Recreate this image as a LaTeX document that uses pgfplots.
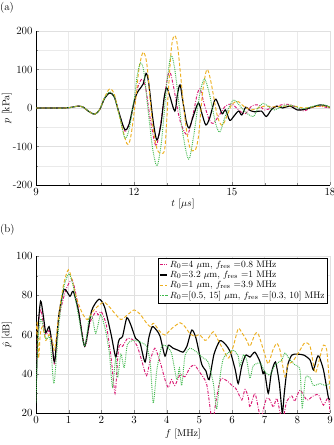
\documentclass[border=0pt]{standalone}
\usepackage{pgfplots}
\pgfplotsset{compat=1.18}
\definecolor{cMag}{rgb}{0.85,0.10,0.45}
\definecolor{cOra}{rgb}{0.93,0.69,0.13}
\definecolor{cGre}{rgb}{0.25,0.72,0.30}
\definecolor{cGrid}{gray}{0.88}
\newcommand{\tfont}{\fontsize{11}{13}\selectfont}
\pgfplotsset{
  myaxis/.style={
    scale only axis, width=294bp,
    axis x line*=bottom, axis y line*=left, axis line style={-},
    tick align=inside, major tick length=3bp, minor tick length=2bp,
    grid=both, major grid style={cGrid, line width=0.5pt}, minor grid style={cGrid!70, line width=0.4pt},
    tick label style={font=\tfont},
    label style={font=\tfont},
    every axis y label/.style={at={(axis description cs:-0.099,0.5)}, anchor=center, rotate=90},
  },
  sMag/.style={cMag, line width=0.95pt, dash pattern=on 3pt off 1.5pt on 0.8pt off 1.5pt},
  sBla/.style={black, line width=1.15pt},
  sOra/.style={cOra, line width=0.95pt, dash pattern=on 3.5pt off 2pt},
  sGre/.style={cGre, line width=0.95pt, dash pattern=on 0.9pt off 1pt},
}
\begin{document}
\begin{tikzpicture}
% ---------------- (a) ----------------
\begin{axis}[myaxis, at={(0bp,228bp)}, anchor=south west, height=154bp,
  xmin=9, xmax=18, ymin=-200, ymax=200,
  xtick={9,12,15,18}, minor x tick num=2,
  ytick={-200,-100,0,100,200}, yticklabels={{-200},{-100},0,100,200}, minor y tick num=1,
  xlabel={$t$ [$\mu s$]}, ylabel={$p$ [kPa]},
  every axis x label/.style={at={(axis description cs:0.5,-0.123)}, anchor=center}]
\addplot[sMag, smooth, tension=0.5] coordinates {
(9,0)(9.5,0)(9.9,0)(10.1,2)(10.3,5)(10.45,2)(10.6,-8)(10.8,-16)(10.95,-4)(11.1,25)(11.26,40)(11.4,28)(11.55,-15)(11.72,-60)(11.85,-40)(12.0,10)(12.1,50)(12.23,74)(12.35,55)(12.5,-30)(12.67,-98)(12.8,-50)(12.95,40)(13.08,95)(13.2,60)(13.4,-30)(13.63,-70)(13.8,-20)(13.92,30)(14.02,50)(14.15,10)(14.3,-30)(14.42,-40)(14.6,-20)(14.8,5)(15.0,10)(15.2,-5)(15.4,-15)(15.6,5)(15.8,8)(16.0,-5)(16.2,0)(16.4,5)(16.6,10)(16.8,8)(17.0,0)(17.2,-8)(17.4,0)(17.6,5)(17.8,3)(18,0)};
\addplot[sBla, smooth, tension=0.5] coordinates {
(9,0)(9.5,0)(9.9,0)(10.1,2)(10.3,5)(10.45,2)(10.6,-8)(10.8,-16)(10.95,-4)(11.1,25)(11.26,39)(11.4,28)(11.55,-15)(11.72,-56)(11.85,-42)(12.0,15)(12.1,40)(12.2,52)(12.28,62)(12.37,90)(12.45,65)(12.58,-30)(12.7,-83)(12.82,-45)(12.92,25)(13.0,52)(13.1,30)(13.25,-8)(13.33,35)(13.41,60)(13.5,15)(13.6,-35)(13.69,-52)(13.8,-25)(13.97,13)(14.08,-15)(14.2,-44)(14.32,-25)(14.48,22)(14.58,10)(14.7,-15)(14.8,-5)(14.93,-32)(15.05,-22)(15.2,-8)(15.3,-18)(15.42,2)(15.55,-6)(15.7,-10)(15.9,-8)(16.05,-22)(16.2,-5)(16.36,5)(16.55,0)(16.77,5)(17.0,-5)(17.2,-4)(17.45,2)(17.7,8)(17.9,5)(18,1)};
\addplot[sOra, smooth, tension=0.5] coordinates {
(9,0)(9.5,0)(9.9,0)(10.1,2)(10.3,5)(10.45,2)(10.6,-8)(10.8,-16)(10.95,-4)(11.1,28)(11.26,50)(11.4,35)(11.55,-20)(11.78,-92)(11.9,-75)(12.05,20)(12.15,100)(12.28,145)(12.4,110)(12.55,-30)(12.7,-105)(12.85,-118)(12.95,-100)(13.05,40)(13.15,160)(13.25,188)(13.35,150)(13.55,-20)(13.7,-100)(13.87,-110)(13.98,-70)(14.1,40)(14.23,100)(14.35,70)(14.55,-20)(14.7,-45)(14.85,-20)(15.0,10)(15.19,17)(15.35,5)(15.6,-5)(15.8,0)(16.0,5)(16.3,3)(16.6,5)(16.9,5)(17.2,0)(17.5,3)(17.8,5)(18,2)};
\addplot[sGre, smooth, tension=0.5] coordinates {
(9,0)(9.5,0)(9.9,0)(10.1,2)(10.3,5)(10.45,2)(10.6,-8)(10.8,-16)(10.95,-4)(11.1,26)(11.26,42)(11.4,28)(11.55,-18)(11.72,-78)(11.85,-55)(12.0,20)(12.1,85)(12.2,117)(12.3,95)(12.45,-20)(12.58,-110)(12.71,-150)(12.85,-80)(13.0,60)(13.13,135)(13.25,100)(13.45,-40)(13.6,-115)(13.7,-130)(13.85,-60)(14.0,30)(14.15,75)(14.3,40)(14.5,-40)(14.63,-62)(14.8,-20)(15.03,20)(15.2,10)(15.4,-10)(15.65,-22)(15.8,0)(15.95,12)(16.1,5)(16.3,-5)(16.5,3)(16.7,8)(16.9,5)(17.1,-2)(17.3,0)(17.5,5)(17.8,8)(18,3)};
\end{axis}
% ---------------- (b) ----------------
\begin{axis}[myaxis, at={(0bp,0bp)}, anchor=south west, height=157bp,
  xmin=0, xmax=9, ymin=20, ymax=100,
  xtick={0,1,...,9}, ytick={20,40,...,100}, minor y tick num=1,
  xlabel={$f$ [MHz]}, ylabel={$\hat{p}$ [dB]},
  every axis x label/.style={at={(axis description cs:0.5,-0.134)}, anchor=center},
  legend cell align=left,
  legend style={at={(rel axis cs:0.993,0.99)}, anchor=north east, font=\fontsize{9.5}{11}\selectfont,
    draw=black, line width=0.5pt, inner sep=1pt, row sep=-1.8pt, fill=white},
  legend image post style={xscale=0.45}]
\addplot[sMag, smooth, tension=0.4] coordinates {
(0,40)(0.05,62)(0.14,73)(0.22,66)(0.3,60)(0.4,62)(0.48,56)(0.57,45)(0.7,68)(0.9,82)(1.1,88)(1.25,78)(1.49,54)(1.65,66)(1.83,71.6)(1.9,70)(2.0,71.6)(2.15,65)(2.3,48)(2.42,30)(2.5,48)(2.56,55)(2.65,54)(2.8,58)(2.95,57.5)(3.1,54)(3.25,46)(3.38,39)(3.5,47)(3.64,53)(3.8,46)(3.95,37)(4.05,33)(4.15,37)(4.25,34)(4.41,39.5)(4.56,38.5)(4.71,43)(4.85,44.5)(5.0,41)(5.22,35)(5.35,20)(5.41,15)(5.5,25)(5.6,34)(5.68,37.7)(5.88,36)(6.0,34)(6.09,33)(6.17,31)(6.3,26.6)(6.4,32)(6.5,28)(6.55,23)(6.7,30)(6.8,23)(6.88,17)(6.96,22)(7.06,27.5)(7.15,27)(7.27,23)(7.37,27.5)(7.5,18)(7.55,15)(7.67,25.8)(7.83,28.7)(7.92,26)(8.08,31.7)(8.29,26.6)(8.45,28.3)(8.6,29.5)(8.66,29)(8.8,24)(8.95,28)(9,20)};
\addlegendentry{$R_0$=4 $\mu$m, $f_{\mathrm{res}}$ =0.8 MHz}
\addplot[sBla, smooth, tension=0.4] coordinates {
(0,28)(0.05,60)(0.14,77)(0.22,70)(0.3,61)(0.4,64)(0.48,57)(0.57,46)(0.7,70)(0.86,83)(1.04,79.5)(1.14,82)(1.3,72)(1.49,54)(1.7,72)(1.93,78)(2.1,74)(2.3,60)(2.44,48.5)(2.52,56)(2.57,58)(2.65,59)(2.78,68.5)(2.9,65)(3.05,58)(3.18,56)(3.34,46)(3.45,58)(3.56,64)(3.7,62)(3.8,59)(3.95,49)(4.05,54.5)(4.2,53)(4.35,52)(4.5,51)(4.62,54)(4.77,62.3)(4.9,58)(5.07,45)(5.2,41.5)(5.3,37)(5.45,50)(5.63,56.8)(5.8,55)(5.95,51)(6.1,42)(6.19,35)(6.3,44)(6.42,49.5)(6.55,48.5)(6.7,51)(6.86,46)(6.95,40)(7.0,41)(7.11,30)(7.2,40)(7.33,46)(7.45,35)(7.54,20)(7.6,30)(7.7,44)(7.83,49.5)(8.0,50)(8.2,49.5)(8.39,47)(8.49,42)(8.6,48)(8.66,49)(8.8,42)(8.95,28)(9,27)};
\addlegendentry{$R_0$=3.2 $\mu$m, $f_{\mathrm{res}}$ =1 MHz}
\addplot[sOra, smooth, tension=0.4] coordinates {
(0,60)(0.04,66)(0.08,48)(0.13,60)(0.2,64)(0.3,57)(0.4,60)(0.5,57)(0.57,52)(0.7,70)(0.85,86)(0.99,93)(1.1,88)(1.25,78)(1.42,70.8)(1.57,67.6)(1.75,72)(1.9,74.5)(2.08,76.5)(2.25,74)(2.4,71)(2.6,67.6)(2.8,70)(3.0,72.5)(3.18,70.5)(3.39,65.7)(3.5,64)(3.6,65.7)(3.8,61.4)(3.95,59.7)(4.15,63)(4.41,66)(4.56,64)(4.71,60.5)(4.87,59)(5.0,60)(5.17,57)(5.27,58)(5.43,61.4)(5.58,57)(5.79,50.4)(5.9,48)(6.04,54)(6.19,63)(6.3,61)(6.45,57)(6.55,54)(6.7,60)(6.8,60.5)(7.01,49.6)(7.11,45)(7.25,52)(7.37,55.5)(7.47,52)(7.62,38.5)(7.72,45)(7.85,46)(8.08,52)(8.23,55.8)(8.39,54)(8.55,40.5)(8.7,49)(8.8,54.6)(8.9,52)(9,32)};
\addlegendentry{$R_0$=1 $\mu$m, $f_{\mathrm{res}}$ =3.9 MHz}
\addplot[sGre, smooth, tension=0.4] coordinates {
(0,25)(0.05,55)(0.15,68)(0.3,58)(0.43,58)(0.55,35)(0.7,65)(0.85,84)(1.01,91)(1.15,84)(1.27,72.5)(1.49,54)(1.62,68)(1.72,69)(1.83,60.6)(1.98,70)(2.13,62)(2.25,50)(2.34,33.4)(2.44,48)(2.5,38)(2.6,50)(2.7,43)(2.8,55)(3.0,57)(3.2,56)(3.39,54)(3.5,45)(3.59,25)(3.7,42)(3.85,54)(4.0,54)(4.15,50.4)(4.31,37)(4.39,43)(4.46,34)(4.56,49)(4.71,53)(4.92,51)(5.12,48)(5.27,46)(5.43,35)(5.53,22)(5.63,38)(5.72,47)(5.83,50)(6.04,52)(6.19,49)(6.24,44)(6.35,49.6)(6.45,47)(6.55,37.7)(6.65,44)(6.86,45.5)(7.01,41)(7.16,39.4)(7.32,44.5)(7.52,47)(7.62,50.5)(7.78,47)(7.93,44.5)(8.08,42)(8.15,23)(8.25,38)(8.39,38)(8.49,34)(8.7,35)(8.85,34)(9,35)};
\addlegendentry{$R_0$=[0.5, 15] $\mu$m, $f_{\mathrm{res}}$ =[0.3, 10] MHz}
\end{axis}
\node[anchor=north west, inner sep=0pt, font=\tfont] at (-36bp,411bp) {(a)};
\node[anchor=north west, inner sep=0pt, font=\tfont] at (-36bp,189bp) {(b)};
\pgfresetboundingbox
\path[use as bounding box] (-36bp,-32bp) rectangle (298bp,413bp);
\end{tikzpicture}
\end{document}
